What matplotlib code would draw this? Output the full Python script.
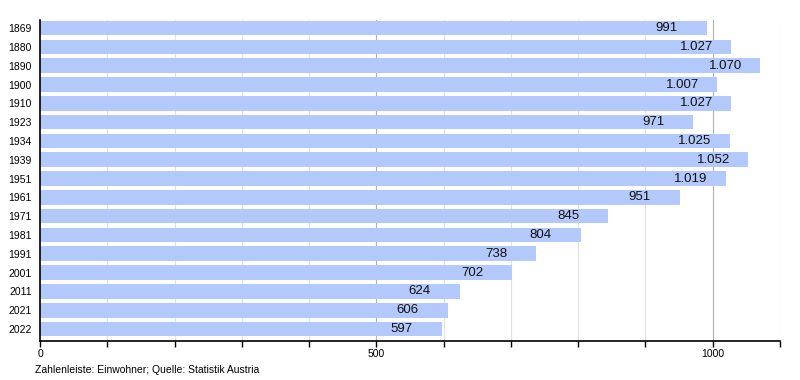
import matplotlib.pyplot as plt
from matplotlib.ticker import MultipleLocator
import numpy as np

plt.rcParams['font.family'] = ['Liberation Sans', 'DejaVu Sans']

years = ['1869', '1880', '1890', '1900', '1910', '1923', '1934', '1939', '1951',
         '1961', '1971', '1981', '1991', '2001', '2011', '2021', '2022']
einwohner = [991, 1027, 1070, 1007, 1027, 971, 1025, 1052, 1019,
             951, 845, 804, 738, 702, 624, 606, 597]

def fmt(v):
    # deutsche Tausendertrennung
    return '{:,}'.format(v).replace(',', '.')

fig = plt.figure(figsize=(8, 3.8), dpi=100)
ax = fig.add_axes([0.05, 0.1026, 0.925, 0.8447])

y = np.arange(len(years))
ax.barh(y, einwohner, height=0.78, color='#b3c9fb', zorder=2)

for yi, v in zip(y, einwohner):
    ax.text(v - 76, yi, fmt(v), ha='left', va='center', fontsize=9.5,
            color='#111111', zorder=3)

ax.set_xlim(0, 1100)
ax.set_ylim(16.64, -0.43)
ax.set_yticks(y)
ax.set_yticklabels(years, fontsize=7.5)
ax.tick_params(axis='y', length=0, pad=6)

ax.xaxis.set_major_locator(MultipleLocator(500))
ax.xaxis.set_minor_locator(MultipleLocator(100))
ax.tick_params(axis='x', which='both', length=4, width=1, labelsize=7.5, pad=2)

# Gitterlinien
for gx in range(100, 1101, 100):
    c = '#b0b0b0' if gx % 500 == 0 else '#e2e2e2'
    ax.axvline(gx, color=c, lw=0.8, zorder=1)

for s in ['top', 'right']:
    ax.spines[s].set_visible(False)
ax.spines['left'].set_linewidth(1.2)
ax.spines['bottom'].set_linewidth(1.2)

fig.text(35 / 800, 1 - 370 / 380, 'Zahlenleiste: Einwohner; Quelle: Statistik Austria',
         fontsize=7.5, va='center', ha='left')

fig.savefig('out.png', dpi=100)
